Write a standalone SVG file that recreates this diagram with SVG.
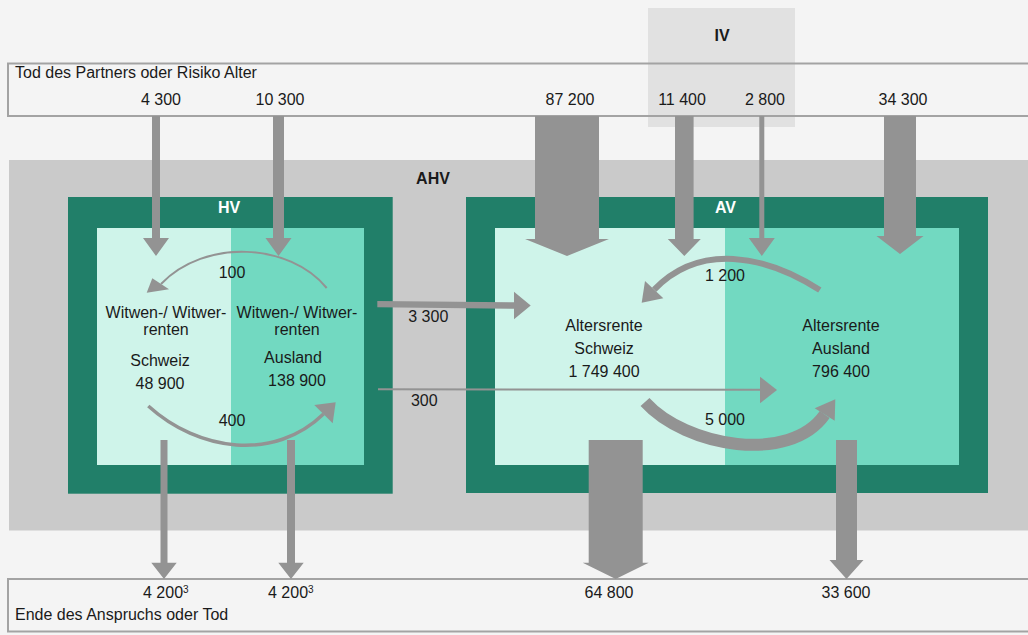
<svg xmlns="http://www.w3.org/2000/svg" width="1028" height="635" viewBox="0 0 1028 635">
<style>
text{font-family:"Liberation Sans",Arial,sans-serif;font-size:16px;fill:#1a1a1a}
.c{text-anchor:middle}
.b{font-weight:bold}
.w{fill:#ffffff}
.box{fill:none;stroke:#a3a3a3;stroke-width:2}
.dk{fill:#217f69}
.lt{fill:#cff4ea}
.md{fill:#72d9c1}
.ar{fill:#939393}
.arc{fill:none;stroke:#939393}
</style>
<rect width="1028" height="635" fill="#f4f4f4"/>
<g id="iv">
<rect x="648" y="8" width="147" height="119" fill="#e1e1e1"/>
<text class="c b" x="722" y="41">IV</text>
</g>
<g id="source">
<rect class="box" x="8" y="63.5" width="1030" height="52.5"/>
<text x="15" y="78">Tod des Partners oder Risiko Alter</text>
</g>
<g id="sink">
<rect class="box" x="8" y="579" width="1030" height="52.5"/>
<text x="15" y="620">Ende des Anspruchs oder Tod</text>
</g>
<g id="ahv">
<rect x="9" y="160" width="1030" height="370.5" fill="#cacaca"/>
<text class="c b" x="433" y="184">AHV</text>
</g>
<g id="hv">
<rect class="dk" x="68" y="197" width="324.7" height="296.7"/>
<text class="c b w" x="229" y="213">HV</text>
<g id="hv-schweiz">
<rect class="lt" x="97" y="228" width="134" height="237"/>
<text class="c" x="166" y="318">Witwen-/ Witwer-</text>
<text class="c" x="166" y="335">renten</text>
<text class="c" x="160" y="366">Schweiz</text>
<text class="c" x="160" y="389">48 900</text>
</g>
<g id="hv-ausland">
<rect class="md" x="231" y="228" width="133" height="237"/>
<text class="c" x="297" y="318">Witwen-/ Witwer-</text>
<text class="c" x="297" y="335">renten</text>
<text class="c" x="293" y="363">Ausland</text>
<text class="c" x="297" y="386">138 900</text>
</g>
</g>
<g id="av">
<rect class="dk" x="466" y="197" width="522" height="296"/>
<text class="c b w" x="725.5" y="213">AV</text>
<g id="av-schweiz">
<rect class="lt" x="495" y="228" width="230" height="237"/>
<text class="c" x="604" y="331">Altersrente</text>
<text class="c" x="604" y="354">Schweiz</text>
<text class="c" x="604" y="377">1 749 400</text>
</g>
<g id="av-ausland">
<rect class="md" x="725" y="228" width="234" height="237"/>
<text class="c" x="841" y="331">Altersrente</text>
<text class="c" x="841" y="354">Ausland</text>
<text class="c" x="841" y="377">796 400</text>
</g>
</g>
<g id="connectors">
<polygon class="ar" points="152,116 160,116 160,238 169,238 156,256 143,238 152,238"/>
<polygon class="ar" points="273,116 284,116 284,238 291.5,238 278.5,256 265.5,238 273,238"/>
<polygon class="ar" points="535,116 599,116 599,239 609,239 567,256 525,239 535,239"/>
<polygon class="ar" points="675,116 693.6,116 693.6,239 700.8,239 684.3,256 667.8,239 675,239"/>
<polygon class="ar" points="759.3,116 764.3,116 764.3,238 774.8,238 761.8,256 748.8,238 759.3,238"/>
<polygon class="ar" points="884,116 916,116 916,236 923.5,236 900,254 876.5,236 884,236"/>
<polygon class="ar" points="160.5,440 167.5,440 167.5,562.7 176.7,562.7 164,579 151.3,562.7 160.5,562.7"/>
<polygon class="ar" points="287,440 295,440 295,562.7 303.7,562.7 291,579 278.3,562.7 287,562.7"/>
<polygon class="ar" points="588.7,440 642.7,440 642.7,562.7 648.7,562.7 615.7,579 582.7,562.7 588.7,562.7"/>
<polygon class="ar" points="836,440 857,440 857,560 863.5,560 846.5,579 829.5,560 836,560"/>
<polygon class="ar" points="377.3,301 514,302.3 514,291.7 530.7,305.6 514,319.3 514,308.7 377.3,307.3"/>
<line x1="378" y1="389.3" x2="762" y2="389.8" stroke="#939393" stroke-width="2"/>
<polygon class="ar" points="760,376.7 777,390 760,403.3"/>
<path class="arc" stroke-width="2" d="M326.7,288 C290,243 205,238 161,284"/>
<polygon class="ar" points="146.7,292.7 152.3,278.3 169,289.3"/>
<path class="arc" stroke-width="3.5" d="M148.3,406 C198.6,451.6 274.5,461.6 323.5,414"/>
<polygon class="ar" points="335.7,402.3 314.3,405 332.7,423.3"/>
<path class="arc" stroke-width="6" d="M819.8,290 C764.7,254.6 699.3,242.8 654.2,289.7"/>
<polygon class="ar" points="641.7,302.7 645,281 663.3,298.3"/>
<path class="arc" stroke-width="12" d="M645,402 C685.9,447.1 789.9,464.5 824.7,414.5"/>
<polygon class="ar" points="835.3,399.3 814.7,408.3 834.7,420.7"/>
</g>
<g id="labels">
<text class="c" x="161" y="105">4 300</text>
<text class="c" x="280" y="105">10 300</text>
<text class="c" x="570" y="105">87 200</text>
<text class="c" x="682" y="105">11 400</text>
<text class="c" x="765" y="105">2 800</text>
<text class="c" x="903" y="105">34 300</text>
<text class="c" x="232" y="278">100</text>
<text class="c" x="232" y="426">400</text>
<text class="c" x="428.3" y="321.5">3 300</text>
<text class="c" x="424.3" y="405.5">300</text>
<text class="c" x="725" y="281">1 200</text>
<text class="c" x="725" y="425">5 000</text>
<text x="143" y="597.7">4 200<tspan font-size="10" dy="-5">3</tspan></text>
<text x="268" y="597.7">4 200<tspan font-size="10" dy="-5">3</tspan></text>
<text class="c" x="609" y="597.7">64 800</text>
<text class="c" x="846" y="597.7">33 600</text>
</g>
</svg>
